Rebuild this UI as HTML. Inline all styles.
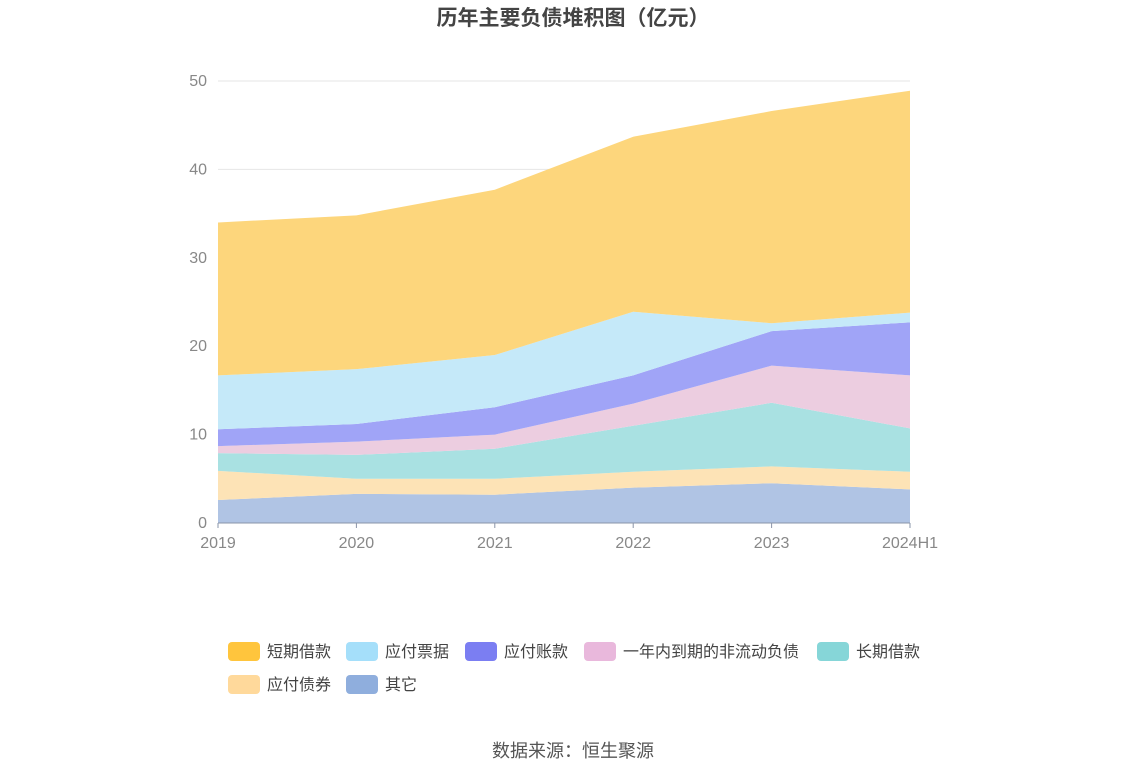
<!DOCTYPE html>
<html><head><meta charset="utf-8"><style>
body{margin:0;background:#fff;width:1147px;height:776px;overflow:hidden;font-family:"Liberation Sans","Noto Sans CJK SC",sans-serif}
</style></head><body>
<svg id="c" width="1147" height="776" style="font-family:'Liberation Sans','Noto Sans CJK SC',sans-serif">
<text x="573" y="25" text-anchor="middle" font-size="21" font-weight="bold" fill="#444">历年主要负债堆积图（亿元）</text>
<g id="grid"></g><g id="areas"></g><g id="axes"></g><g id="legend"></g>
<text x="573" y="757" text-anchor="middle" font-size="18" fill="#555">数据来源：恒生聚源</text>
</svg>
<script>
const categories=["2019","2020","2021","2022","2023","2024H1"];
const seriesNames=["其它","应付债券","长期借款","一年内到期的非流动负债","应付账款","应付票据","短期借款"];
const other=[2.6,3.3,3.2,4.0,4.5,3.8];
const bonds=[3.3,1.7,1.8,1.8,1.9,2.0];
const longLoan=[2.0,2.7,3.4,5.2,7.2,4.9];
const currentNonCurrent=[0.8,1.5,1.6,2.5,4.2,6.0];
const payables=[1.9,2.0,3.1,3.2,3.9,6.0];
const notesPayable=[6.1,6.2,5.9,7.2,0.9,1.1];
const shortLoan=[17.3,17.4,18.7,19.8,24.0,25.1];
const yTicks=[0,10,20,30,40,50];
const series=[other,bonds,longLoan,currentNonCurrent,payables,notesPayable,shortLoan];
const fills=["#b0c4e4","#fde3b6","#a9e1e2","#eccde0","#a0a4f7","#c5e9f9","#fdd67c"];
const legendColors=["#8faedd","#ffd99b","#86d6d8","#e9b8dc","#7b7ef2","#a5dffa","#ffc53d"];
const slugs=["other","bonds","long-term-loan","current-noncurrent","accounts-payable","notes-payable","short-term-loan"];
const NS="http://www.w3.org/2000/svg";
const x0=218,x1=910,y0=523,y1=81;
const xs=i=>x0+(x1-x0)*i/(categories.length-1);
const ys=v=>y0-(y0-y1)*v/50;
function mk(t,a,p){const e=document.createElementNS(NS,t);for(const k in a)e.setAttribute(k,a[k]);p.appendChild(e);return e;}
const grid=document.getElementById('grid'),axes=document.getElementById('axes'),areas=document.getElementById('areas'),lg=document.getElementById('legend');
yTicks.forEach(t=>{
 const l=mk('line',{x1:x0,x2:x1,y1:ys(t),y2:ys(t),stroke:'#e6e6e6'},grid);
 
 
 const tx=mk('text',{x:207,y:ys(t)+5,'text-anchor':'end','font-size':16,fill:'#888'},axes);tx.textContent=t;
 
 
});
let base=categories.map(()=>0);
series.forEach((s,k)=>{
 const top=base.map((b,i)=>b+s[i]);
 let d='M'+top.map((v,i)=>xs(i)+','+ys(v)).join(' L');
 for(let i=categories.length-1;i>=0;i--)d+=' L'+xs(i)+','+ys(base[i]);
 const p=mk('path',{d:d+'Z',fill:fills[k]},areas);
 
 
 base=top;
});
const ax=mk('line',{x1:x0,x2:x1,y1:y0,y2:y0,stroke:'#8a94a8'},axes);


categories.forEach((c,i)=>{
 mk('line',{x1:xs(i),x2:xs(i),y1:y0,y2:y0+5,stroke:'#8a94a8'},axes);
 const t=mk('text',{x:xs(i),y:548,'text-anchor':'middle','font-size':16,fill:'#888'},axes);t.textContent=c;
 
 
});
const order=[6,5,4,3,2,1,0];
const pos=[[228,642],[346,642],[465,642],[584,642],[817,642],[228,675],[346,675]];
order.forEach((k,j)=>{
 const [lx,ly]=pos[j];
 const g=mk('g',{},lg);
 
 
 mk('rect',{x:lx,y:ly,width:32,height:19,rx:4,fill:legendColors[k]},g);
 const t=mk('text',{x:lx+39,y:ly+15,'font-size':16,fill:'#444'},g);t.textContent=seriesNames[k];
});
</script>
</body></html>
